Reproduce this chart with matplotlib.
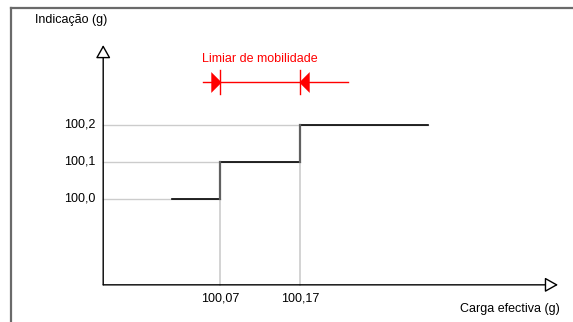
import matplotlib
matplotlib.use("Agg")
import matplotlib.pyplot as plt
from matplotlib.lines import Line2D

plt.rcParams['font.family'] = ['Liberation Sans', 'DejaVu Sans']

# data
levels = [100.0, 100.1, 100.2]            # indicacao (g)
level_labels = ['100,0', '100,1', '100,2']
loads = [100.01, 100.07, 100.17, 100.33]  # carga efectiva (g): start, steps, end
step_labels = ['100,07', '100,17']
threshold_text = 'Limiar de mobilidade'

# axis origin and arrow ends
x0, y0 = 99.924, 99.768
x_end, y_end = 100.4925, 100.416

fig = plt.figure(figsize=(5.73, 3.22), dpi=100)
ax = fig.add_axes([0, 0, 1, 1])
ax.set_xlim(99.795, 100.51125)
ax.set_ylim(99.66757, 100.5378)
ax.axis('off')

# outer frame (top and left only)
fig.add_artist(Line2D([11 / 573, 1], [1 - 8 / 322, 1 - 8 / 322], color='#6a6a6a', lw=1.6))
fig.add_artist(Line2D([11 / 573, 11 / 573], [0, 1 - 8 / 322], color='#6a6a6a', lw=1.6))

grid = '#cccccc'
# horizontal gridlines up to where each level starts
for i, lv in enumerate(levels):
    ax.plot([x0, loads[i + 1]], [lv, lv], color=grid, lw=1, zorder=1)
# vertical gridlines down from each step
for i in range(1, 3):
    ax.plot([loads[i], loads[i]], [y0, levels[i - 1]], color=grid, lw=1.2, zorder=1)

# step function
for i, lv in enumerate(levels):
    ax.plot([loads[i], loads[i + 1]], [lv, lv], color='black', lw=1.2, zorder=3)
for i in range(1, 3):
    ax.plot([loads[i], loads[i]], [levels[i - 1], levels[i]], color='#606060', lw=1.6, zorder=3)

# axes with open arrowheads
arrow = dict(arrowstyle='-|>,head_length=0.8,head_width=0.45', fc='white', ec='black',
             lw=1, shrinkA=0, shrinkB=0)
ax.annotate('', xy=(x_end, y0), xytext=(x0, y0), arrowprops=arrow, zorder=4)
ax.annotate('', xy=(x0, y_end), xytext=(x0, y0), arrowprops=arrow, zorder=4)

# tick labels
fs = 9
for lv, lab in zip(levels, level_labels):
    ax.text(x0 - 0.01, lv, lab, ha='right', va='center', fontsize=fs)
for xv, lab in zip(loads[1:3], step_labels):
    ax.text(xv, y0 - 0.036, lab, ha='center', va='center', fontsize=fs)

ax.text(99.88375, 100.4838, 'Indicação (g)', ha='center', va='center', fontsize=fs)
ax.text(100.432, 99.704, 'Carga efectiva (g)', ha='center', va='center', fontsize=fs)

# threshold annotation
red = '#ff0000'
ya = 100.0 + (199 - 82) / 370
ax.text((loads[1] + loads[2]) / 2, 100.0 + (199 - 59) / 370, threshold_text,
        ha='center', va='center', fontsize=fs, color=red)
ax.plot([loads[1] - 0.021, loads[2] + 0.06], [ya, ya], color=red, lw=1)
for xv in loads[1:3]:
    ax.plot([xv, xv], [ya - 0.033, ya + 0.033], color=red, lw=1)
right_tri = [(-0.5, -1), (0.5, 0), (-0.5, 1)]
left_tri = [(0.5, -1), (-0.5, 0), (0.5, 1)]
ax.plot([loads[1] - 0.0047], [ya], marker=right_tri, color=red, ms=15, mew=0)
ax.plot([loads[2] + 0.0047], [ya], marker=left_tri, color=red, ms=15, mew=0)

fig.savefig('out.png', dpi=100)
